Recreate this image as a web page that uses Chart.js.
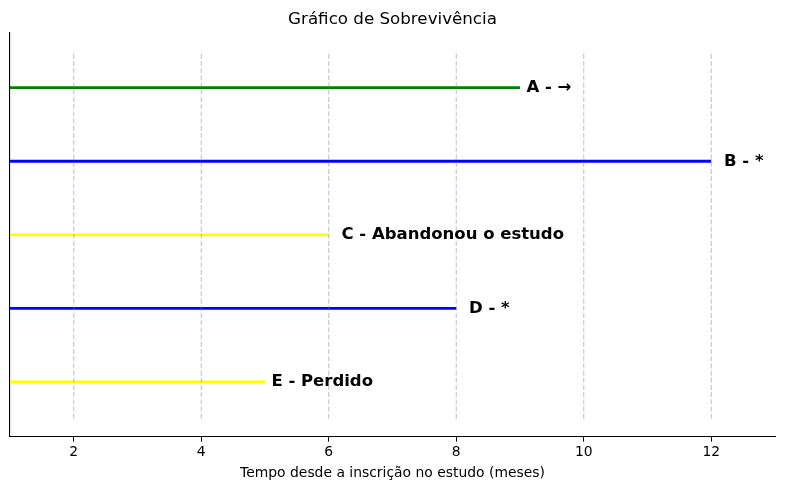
<!DOCTYPE html>
<html>
<head>
<meta charset="utf-8">
<script src="https://cdn.jsdelivr.net/npm/chart.js@4/dist/chart.umd.min.js"></script>
<style>
html,body{margin:0;padding:0;background:#fff;}
#wrap{width:785px;height:490px;}
</style>
</head>
<body>
<div id="wrap"><canvas id="c" width="785" height="490"></canvas></div>
<script>
const subjects = ['A', 'B', 'C', 'D', 'E'];
const statusText = ['→', '*', 'Abandonou o estudo', '*', 'Perdido'];
const startTimes = [0, 0, 0, 0, 0];
const endTimes = [9, 12, 6, 8, 5];
const rowPositions = [5, 4, 3, 2, 1];
const lineColors = ['#008000', '#0000ff', '#ffff00', '#0000ff', '#ffff00'];
const labelTimes = [9.1, 12.2, 6.2, 8.2, 5.1];
const xTicks = [2, 4, 6, 8, 10, 12];

const FONT = 'DejaVu Sans';

const datasets = [];
xTicks.forEach(t => {
  datasets.push({
    data: [{x: t, y: 0.5}, {x: t, y: 5.5}],
    borderColor: 'rgba(128,128,128,0.5)',
    borderWidth: 1,
    borderDash: [5, 2.2],
    pointRadius: 0,
    fill: false
  });
});
subjects.forEach((s, i) => {
  datasets.push({
    data: [{x: startTimes[i], y: rowPositions[i]}, {x: endTimes[i], y: rowPositions[i]}],
    borderColor: lineColors[i],
    borderWidth: 2.8,
    pointRadius: 0,
    fill: false
  });
});

const labelPlugin = {
  id: 'labels',
  afterDatasetsDraw(chart) {
    const ctx = chart.ctx;
    const xs = chart.scales.x, ys = chart.scales.y;
    ctx.save();
    ctx.font = 'bold 16.5px "' + FONT + '"';
    ctx.fillStyle = '#000';
    ctx.textAlign = 'left';
    ctx.textBaseline = 'middle';
    subjects.forEach((s, i) => {
      ctx.fillText(s + ' - ' + statusText[i], xs.getPixelForValue(labelTimes[i]), ys.getPixelForValue(rowPositions[i]));
    });
    ctx.restore();
  }
};

new Chart(document.getElementById('c'), {
  type: 'line',
  data: { datasets },
  options: {
    responsive: false,
    animation: false,
    layout: { padding: { left: 10, right: 10, top: 0, bottom: 8 } },
    plugins: {
      legend: { display: false },
      tooltip: { enabled: false },
      title: {
        display: true,
        text: 'Gráfico de Sobrevivência',
        color: '#000',
        font: { family: FONT, size: 16.7, weight: 'normal' },
        padding: { top: 10, bottom: 3 }
      }
    },
    scales: {
      x: {
        type: 'linear',
        min: 1, max: 13,
        afterBuildTicks(axis) { axis.ticks = xTicks.map(v => ({ value: v })); },
        ticks: { color: '#000', font: { family: FONT, size: 13.9 }, padding: 2, maxRotation: 0 },
        grid: { drawOnChartArea: false, drawTicks: true, tickLength: 5, tickColor: '#000' },
        border: { display: true, color: '#000', width: 1.1 },
        title: {
          display: true,
          text: 'Tempo desde a inscrição no estudo (meses)',
          color: '#000',
          font: { family: FONT, size: 13.9 },
          padding: { top: 3, bottom: 0 }
        }
      },
      y: {
        type: 'linear',
        min: 0.257, max: 5.743,
        ticks: { display: false },
        grid: { display: false, drawTicks: false },
        border: { display: true, color: '#000', width: 1.1 },
        afterFit(axis) { axis.width = 0; }
      }
    }
  },
  plugins: [labelPlugin]
});
</script>
</body>
</html>
